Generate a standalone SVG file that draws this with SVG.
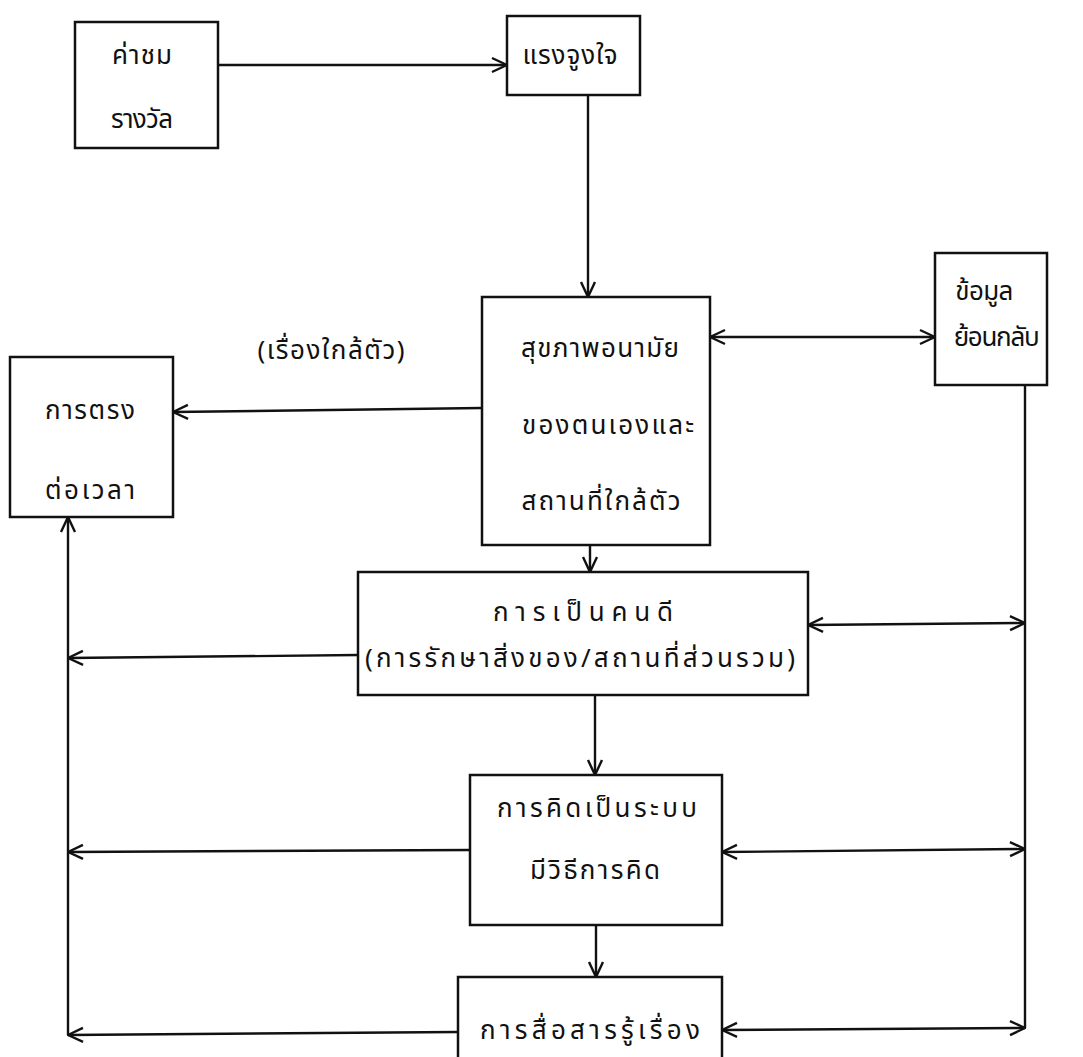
<svg xmlns="http://www.w3.org/2000/svg" width="1083" height="1057" viewBox="0 0 1083 1057">
<defs>
<style>
.box{fill:none;stroke:#111;stroke-width:2.5}
.cn{fill:none;stroke:#111;stroke-width:2.4}
.t{font-family:'TlwgTypewriter','Tlwg Typewriter','Tlwg Typo','Noto Sans Thai','Loma','Garuda','DejaVu Sans',sans-serif;font-size:26px;fill:#111;text-anchor:middle}
</style>
<marker id="ah" viewBox="0 0 18 18" refX="17" refY="9" markerWidth="18" markerHeight="18" markerUnits="userSpaceOnUse" orient="auto-start-reverse">
<path d="M2,2 L17,9 L2,16" fill="none" stroke="#111" stroke-width="2.4"/>
</marker>
</defs>
<rect width="1083" height="1057" fill="#fff"/>
<g id="connectors">
<line class="cn" x1="218" y1="65" x2="507" y2="65" marker-end="url(#ah)"/>
<line class="cn" x1="588" y1="95" x2="588" y2="297" marker-end="url(#ah)"/>
<line class="cn" x1="710" y1="337" x2="935" y2="337" marker-start="url(#ah)" marker-end="url(#ah)"/>
<line class="cn" x1="482" y1="408" x2="173" y2="412" marker-end="url(#ah)"/>
<line class="cn" x1="590" y1="545" x2="590" y2="572" marker-end="url(#ah)"/>
<line class="cn" x1="358" y1="655" x2="68" y2="658" marker-end="url(#ah)"/>
<line class="cn" x1="808" y1="625" x2="1025" y2="623" marker-start="url(#ah)" marker-end="url(#ah)"/>
<line class="cn" x1="595" y1="695" x2="595" y2="775" marker-end="url(#ah)"/>
<line class="cn" x1="470" y1="850" x2="68" y2="852" marker-end="url(#ah)"/>
<line class="cn" x1="722" y1="852" x2="1025" y2="849" marker-start="url(#ah)" marker-end="url(#ah)"/>
<line class="cn" x1="596" y1="925" x2="596" y2="977" marker-end="url(#ah)"/>
<line class="cn" x1="458" y1="1032" x2="68" y2="1035" marker-end="url(#ah)"/>
<line class="cn" x1="722" y1="1030" x2="1025" y2="1028" marker-start="url(#ah)" marker-end="url(#ah)"/>
<line class="cn" x1="68" y1="1035" x2="68" y2="517" marker-end="url(#ah)"/>
<line class="cn" x1="1025" y1="385" x2="1025" y2="1028"/>
</g>
<g id="n-reward">
<rect class="box" x="75" y="22" width="143" height="126"/>
<text class="t" x="142" y="64" textLength="60" lengthAdjust="spacing">ค่าชม</text>
<text class="t" x="142" y="128" textLength="62" lengthAdjust="spacing">รางวัล</text>
</g>
<g id="n-motivation">
<rect class="box" x="507" y="16" width="133" height="79"/>
<text class="t" x="570" y="64" textLength="95" lengthAdjust="spacing">แรงจูงใจ</text>
</g>
<g id="n-feedback">
<rect class="box" x="935" y="253" width="112" height="132"/>
<text class="t" x="984" y="300" textLength="58" lengthAdjust="spacing">ข้อมูล</text>
<text class="t" x="996" y="346" textLength="86" lengthAdjust="spacing">ย้อนกลับ</text>
</g>
<text class="t" x="331" y="359" textLength="147" lengthAdjust="spacing">(เรื่องใกล้ตัว)</text>
<g id="n-health">
<rect class="box" x="482" y="297" width="228" height="248"/>
<text class="t" x="600" y="357" textLength="158" lengthAdjust="spacing">สุขภาพอนามัย</text>
<text class="t" x="608" y="434" textLength="172" lengthAdjust="spacing">ของตนเองและ</text>
<text class="t" x="601" y="510" textLength="159" lengthAdjust="spacing">สถานที่ใกล้ตัว</text>
</g>
<g id="n-punctual">
<rect class="box" x="10" y="357" width="163" height="160"/>
<text class="t" x="90" y="419" textLength="90" lengthAdjust="spacing">การตรง</text>
<text class="t" x="90" y="499" textLength="90" lengthAdjust="spacing">ต่อเวลา</text>
</g>
<g id="n-goodperson">
<rect class="box" x="358" y="572" width="450" height="123"/>
<text class="t" x="583" y="621" textLength="180" lengthAdjust="spacing">การเป็นคนดี</text>
<text class="t" x="580" y="667" textLength="430" lengthAdjust="spacing">(การรักษาสิ่งของ/สถานที่ส่วนรวม)</text>
</g>
<g id="n-thinking">
<rect class="box" x="470" y="775" width="252" height="150"/>
<text class="t" x="597" y="817" textLength="200" lengthAdjust="spacing">การคิดเป็นระบบ</text>
<text class="t" x="595" y="879" textLength="130" lengthAdjust="spacing">มีวิธีการคิด</text>
</g>
<g id="n-communication">
<rect class="box" x="458" y="977" width="264" height="100"/>
<text class="t" x="590" y="1039" textLength="220" lengthAdjust="spacing">การสื่อสารรู้เรื่อง</text>
</g>
</svg>
